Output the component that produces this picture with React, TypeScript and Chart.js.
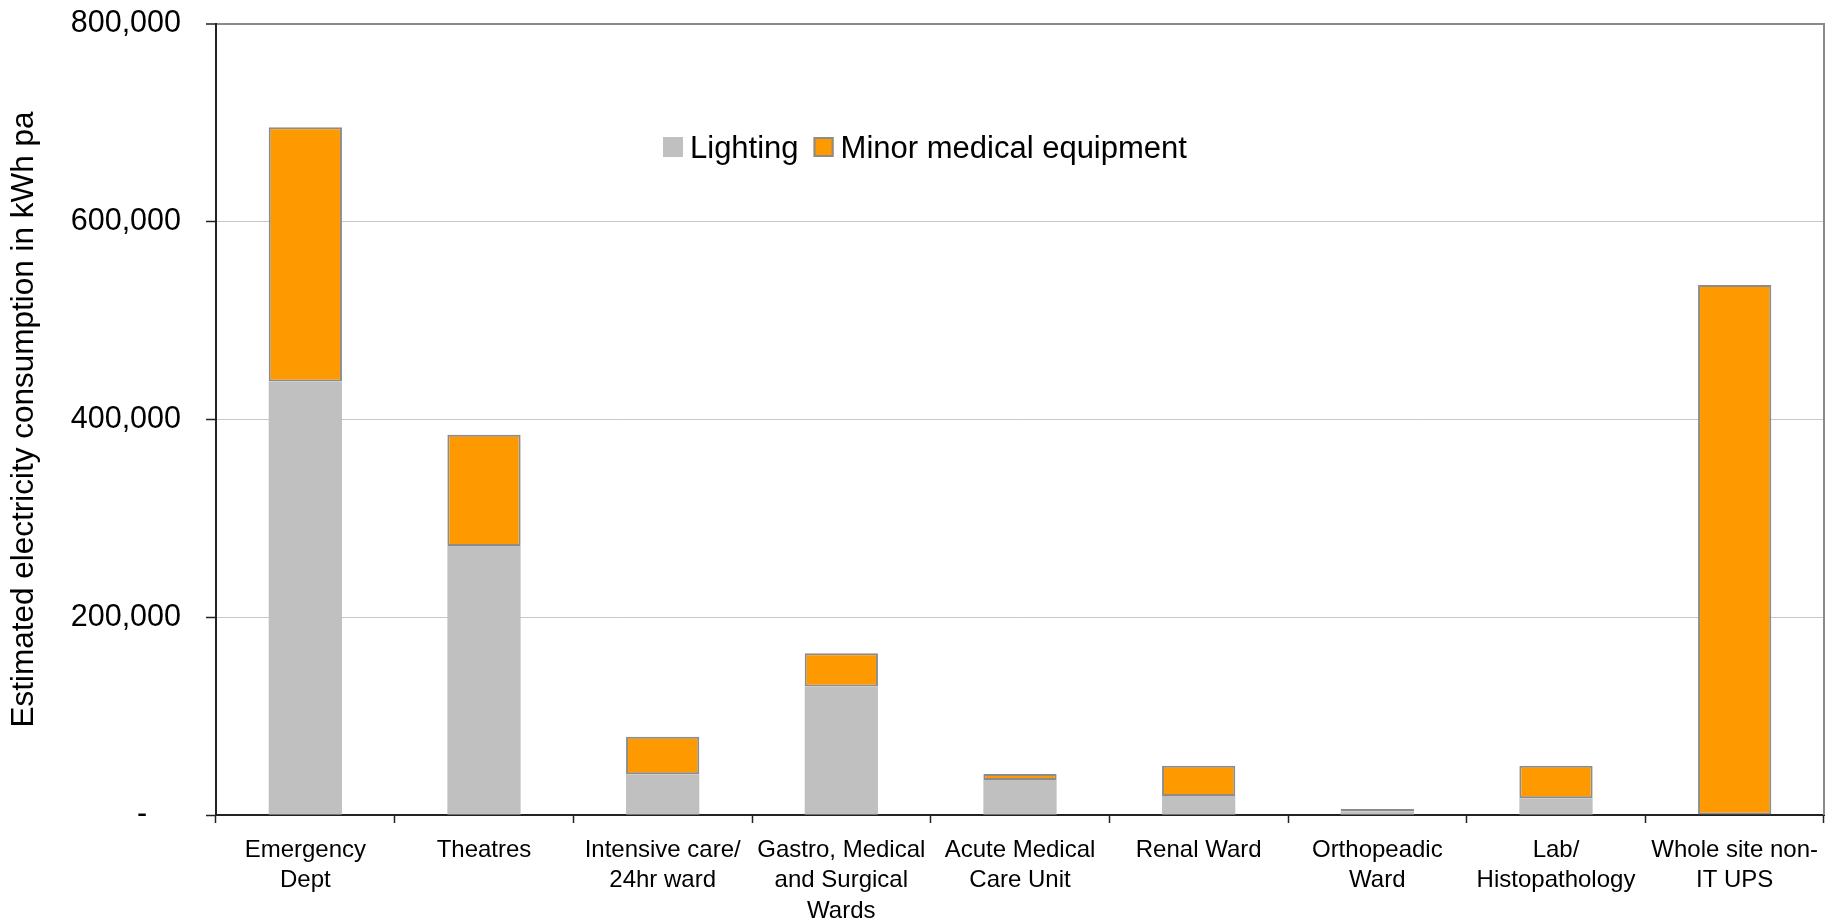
import React, { useEffect, useRef } from "react";
import { Chart, registerables } from "chart.js";

Chart.register(...registerables);

const categories: string[][] = [
  ["Emergency", "Dept"],
  ["Theatres"],
  ["Intensive care/", "24hr ward"],
  ["Gastro, Medical", "and Surgical", "Wards"],
  ["Acute Medical", "Care Unit"],
  ["Renal Ward"],
  ["Orthopeadic", "Ward"],
  ["Lab/", "Histopathology"],
  ["Whole site non-", "IT UPS"],
];

const lighting: number[] = [438500, 272000, 41200, 130000, 35400, 19200, 3500, 16900, 0];
const minorMedical: number[] = [257000, 112500, 38000, 33700, 6100, 30700, 2500, 33000, 536000];

const yTicks: number[] = [0, 200000, 400000, 600000, 800000];

const FONT = '"Liberation Sans", Arial, Helvetica, sans-serif';

const insideLegend = {
  id: "insideLegend",
  afterDraw(chart: any) {
    const { ctx, chartArea } = chart;
    const w = chartArea.right - chartArea.left;
    const h = chartArea.bottom - chartArea.top;
    const x0 = chartArea.left + ((663 - 216) / (1824 - 216)) * w;
    const yc = chartArea.top + ((147 - 24) / (815 - 24)) * h;
    ctx.save();
    ctx.font = `31px ${FONT}`;
    ctx.textBaseline = "alphabetic";
    ctx.textAlign = "left";
    let x = x0;
    const box = 20;
    chart.data.datasets.forEach((ds: any) => {
      ctx.fillStyle = ds.backgroundColor;
      ctx.fillRect(x, yc - box / 2, box, box);
      if (ds.borderWidth > 0) {
        ctx.strokeStyle = ds.borderColor;
        ctx.lineWidth = 2;
        ctx.strokeRect(x + 1, yc - box / 2 + 1, box - 2, box - 2);
      }
      x += box + 7;
      ctx.fillStyle = "#000";
      ctx.fillText(ds.label, x, yc + 10.5);
      x += ctx.measureText(ds.label).width + 15;
    });
    ctx.restore();
  },
};

const rightBorder = {
  id: "rightBorder",
  afterDatasetsDraw(chart: any) {
    const { ctx, chartArea } = chart;
    ctx.save();
    ctx.strokeStyle = "#8a8a8a";
    ctx.lineWidth = 2;
    ctx.beginPath();
    ctx.moveTo(chartArea.right, chartArea.top - 1);
    ctx.lineTo(chartArea.right, chartArea.bottom);
    ctx.stroke();
    ctx.restore();
  },
};

export default function App() {
  const canvasRef = useRef<HTMLCanvasElement | null>(null);

  useEffect(() => {
    if (!canvasRef.current) return;
    const chart = new Chart(canvasRef.current, {
      type: "bar",
      data: {
        labels: categories,
        datasets: [
          {
            label: "Lighting",
            data: lighting,
            backgroundColor: "#C0C0C0",
            borderColor: "#C0C0C0",
            borderWidth: 0,
            borderSkipped: false,
            categoryPercentage: 1,
            barPercentage: 0.41,
          },
          {
            label: "Minor medical equipment",
            data: minorMedical,
            backgroundColor: "#FF9900",
            borderColor: "#8c8c8c",
            borderWidth: 2,
            borderSkipped: false,
            categoryPercentage: 1,
            barPercentage: 0.41,
          },
        ],
      },
      options: {
        animation: false,
        responsive: true,
        maintainAspectRatio: false,
        layout: { padding: { left: 0, top: 24, right: 10, bottom: 0 } },
        plugins: {
          legend: { display: false },
          tooltip: { enabled: false },
          title: { display: false },
        },
        scales: {
          x: {
            stacked: true,
            afterFit: (scale: any) => {
              scale.height = 107;
            },
            border: { display: true, color: "#222", width: 2 },
            grid: {
              display: true,
              offset: true,
              drawOnChartArea: false,
              drawTicks: true,
              tickLength: 8,
              tickColor: "#222",
              tickWidth: 1.5,
            },
            ticks: {
              color: "#000",
              font: { family: FONT, size: 24, lineHeight: 1.27 },
              padding: 12,
              maxRotation: 0,
              minRotation: 0,
              autoSkip: false,
            },
          },
          y: {
            stacked: true,
            min: 0,
            max: 800000,
            afterFit: (scale: any) => {
              scale.width = 216;
              scale.paddingTop = 0;
              scale.paddingBottom = 0;
            },
            afterBuildTicks: (scale: any) => {
              scale.ticks = yTicks.map((v) => ({ value: v }));
            },
            border: { display: true, color: "#222", width: 2 },
            grid: {
              color: (c: any) => (c.tick && c.tick.value === 800000 ? "#8a8a8a" : "#c8c8c8"),
              lineWidth: (c: any) => (c.tick && c.tick.value === 800000 ? 2 : 1),
              tickColor: "#222",
              tickWidth: 1.5,
              tickLength: 10,
              drawTicks: true,
            },
            ticks: {
              color: "#000",
              font: { family: FONT, size: 30.5 },
              padding: 25,
              callback: (v: any) => (Number(v) === 0 ? "-    " : Number(v).toLocaleString("en-US")),
            },
            title: {
              display: true,
              text: "Estimated electricity consumption in kWh pa",
              color: "#000",
              font: { family: FONT, size: 31.5 },
              padding: { top: 5, bottom: 0 },
            },
          },
        },
      },
      plugins: [insideLegend, rightBorder],
    });
    return () => chart.destroy();
  }, []);

  return (
    <div
      style={{
        position: "fixed",
        left: 0,
        top: 0,
        width: "1834px",
        height: "922px",
        background: "#fff",
      }}
    >
      <canvas ref={canvasRef} />
    </div>
  );
}
